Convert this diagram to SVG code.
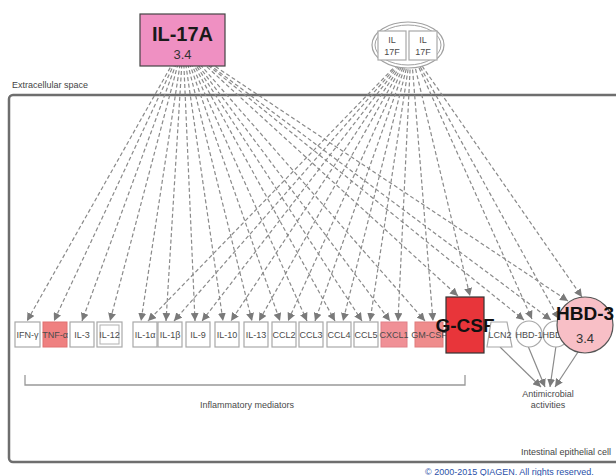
<svg xmlns="http://www.w3.org/2000/svg" width="616" height="476" viewBox="0 0 616 476">
<style>
text{font-family:"Liberation Sans",Arial,sans-serif;}
.e{stroke:#8a8a8a;stroke-width:1.2;stroke-dasharray:4,2.5;fill:none;marker-end:url(#ah);}
.s{stroke:#8a8a8a;stroke-width:1.2;fill:none;marker-end:url(#ah);}
.nb{fill:#fff;stroke:#a8a8a8;stroke-width:1.2;}
.nl{font-size:9px;fill:#4a4a4a;text-anchor:middle;}
.lbl{font-size:9px;fill:#444;}
</style>
<defs>
<marker id="ah" markerWidth="9" markerHeight="8" refX="8" refY="4" orient="auto" markerUnits="userSpaceOnUse">
<path d="M0,0 L8,4 L0,8 Z" fill="#7a7a7a"/>
</marker>
</defs>
<rect width="616" height="476" fill="#fff"/>
<g id="cell">
<rect x="9" y="95" width="640" height="367" rx="4" fill="none" stroke="#6e6e6e" stroke-width="2.5"/>
<text class="lbl" x="12" y="88">Extracellular space</text>
<text class="lbl" x="611" y="455" text-anchor="end">Intestinal epithelial cell</text>
</g>
<g id="connectors">
<line class="e" x1="183" y1="45" x2="27" y2="321"/>
<line class="e" x1="183" y1="45" x2="54" y2="321"/>
<line class="e" x1="183" y1="45" x2="82" y2="321"/>
<line class="e" x1="183" y1="45" x2="110" y2="321"/>
<line class="e" x1="183" y1="45" x2="141" y2="321"/>
<line class="e" x1="183" y1="45" x2="166" y2="321"/>
<line class="e" x1="183" y1="45" x2="195" y2="321"/>
<line class="e" x1="183" y1="45" x2="223" y2="321"/>
<line class="e" x1="183" y1="45" x2="252" y2="321"/>
<line class="e" x1="183" y1="45" x2="280" y2="321"/>
<line class="e" x1="183" y1="45" x2="307" y2="321"/>
<line class="e" x1="183" y1="45" x2="335" y2="321"/>
<line class="e" x1="183" y1="45" x2="362" y2="321"/>
<line class="e" x1="183" y1="45" x2="390" y2="321"/>
<line class="e" x1="183" y1="45" x2="425" y2="321"/>
<line class="e" x1="183" y1="45" x2="458" y2="296"/>
<line class="e" x1="183" y1="45" x2="524" y2="320"/>
<line class="e" x1="183" y1="45" x2="551" y2="320"/>
<line class="e" x1="183" y1="45" x2="568" y2="301"/>
<line class="e" x1="411" y1="50" x2="148" y2="321"/>
<line class="e" x1="411" y1="50" x2="174" y2="321"/>
<line class="e" x1="411" y1="50" x2="202" y2="321"/>
<line class="e" x1="411" y1="50" x2="231" y2="321"/>
<line class="e" x1="411" y1="50" x2="259" y2="321"/>
<line class="e" x1="411" y1="50" x2="288" y2="321"/>
<line class="e" x1="411" y1="50" x2="315" y2="321"/>
<line class="e" x1="411" y1="50" x2="343" y2="321"/>
<line class="e" x1="411" y1="50" x2="370" y2="321"/>
<line class="e" x1="411" y1="50" x2="398" y2="321"/>
<line class="e" x1="411" y1="50" x2="433" y2="321"/>
<line class="e" x1="411" y1="50" x2="470" y2="296"/>
<line class="e" x1="411" y1="50" x2="532" y2="319"/>
<line class="e" x1="411" y1="50" x2="559" y2="319"/>
<line class="e" x1="411" y1="50" x2="582" y2="297"/>
<line class="s" x1="500" y1="347" x2="541" y2="387"/>
<line class="s" x1="528" y1="346" x2="545" y2="387"/>
<line class="s" x1="556" y1="346" x2="550" y2="387"/>
<line class="s" x1="578" y1="352" x2="555" y2="387"/>
</g>
<g id="IL-17A">
<rect x="140" y="14" width="85" height="52" fill="#ef90c2" stroke="#444" stroke-width="1.2"/>
<text x="182.5" y="41" font-size="20" font-weight="bold" fill="#1a1a1a" text-anchor="middle">IL-17A</text>
<text x="182.5" y="59" font-size="13" fill="#333" text-anchor="middle">3.4</text>
</g>
<g id="IL-17F">
<ellipse cx="408" cy="45" rx="36" ry="23" fill="#fff" stroke="#a0a0a0" stroke-width="1.2"/>
<ellipse cx="408" cy="45" rx="33" ry="20" fill="none" stroke="#a0a0a0" stroke-width="1"/>
<rect x="378" y="31" width="28" height="29" class="nb"/>
<rect x="409" y="31" width="28" height="29" class="nb"/>
<text class="nl" x="392" y="43">IL</text>
<text class="nl" x="392" y="55">17F</text>
<text class="nl" x="423" y="43">IL</text>
<text class="nl" x="423" y="55">17F</text>
</g>
<g id="IFN-g"><rect x="15" y="322" width="25" height="25" class="nb"/><text class="nl" x="27.5" y="338">IFN-γ</text></g>
<g id="TNF-a"><rect x="43" y="322" width="24" height="25" fill="#ef8080" stroke="#e07070"/><text class="nl" x="55" y="338" fill="#5a2020">TNF-α</text></g>
<g id="IL-3"><rect x="70" y="322" width="24" height="25" class="nb"/><text class="nl" x="82" y="338">IL-3</text></g>
<g id="IL-12"><rect x="97" y="322" width="25" height="25" class="nb"/><rect x="100" y="325" width="19" height="19" fill="none" stroke="#b0b0b0"/><text class="nl" x="109.5" y="338">IL-12</text></g>
<g id="IL-1a"><rect x="133" y="322" width="24" height="25" class="nb"/><text class="nl" x="145" y="338">IL-1α</text></g>
<g id="IL-1b"><rect x="158" y="322" width="24" height="25" class="nb"/><text class="nl" x="170" y="338">IL-1β</text></g>
<g id="IL-9"><rect x="186" y="322" width="24" height="25" class="nb"/><text class="nl" x="198" y="338">IL-9</text></g>
<g id="IL-10"><rect x="215" y="322" width="24" height="25" class="nb"/><text class="nl" x="227" y="338">IL-10</text></g>
<g id="IL-13"><rect x="244" y="322" width="24" height="25" class="nb"/><text class="nl" x="256" y="338">IL-13</text></g>
<g id="CCL2"><rect x="272" y="322" width="24" height="25" class="nb"/><text class="nl" x="284" y="338">CCL2</text></g>
<g id="CCL3"><rect x="299" y="322" width="24" height="25" class="nb"/><text class="nl" x="311" y="338">CCL3</text></g>
<g id="CCL4"><rect x="327" y="322" width="24" height="25" class="nb"/><text class="nl" x="339" y="338">CCL4</text></g>
<g id="CCL5"><rect x="354" y="322" width="24" height="25" class="nb"/><text class="nl" x="366" y="338">CCL5</text></g>
<g id="CXCL1"><rect x="381" y="322" width="26" height="25" fill="#f09096" stroke="#e08088"/><text class="nl" x="394" y="338" fill="#5a2020">CXCL1</text></g>
<g id="GM-CSF"><rect x="415" y="322" width="28" height="25" fill="#ef8c8c" stroke="#e07c7c"/><text class="nl" x="429" y="338" fill="#6a3030">GM-CSF</text></g>
<g id="G-CSF">
<rect x="446" y="297" width="38" height="56" fill="#e8353a" stroke="#333" stroke-width="1.2"/>
<text x="465" y="332" font-size="19" font-weight="bold" fill="#111" text-anchor="middle">G-CSF</text>
</g>
<g id="LCN2"><polygon points="491,322 507,322 512,347 487,347" class="nb"/><text class="nl" x="500" y="338">LCN2</text></g>
<g id="HBD-1"><circle cx="529" cy="334" r="13" class="nb"/><text class="nl" x="529" y="338">HBD-1</text></g>
<g id="HBD-2"><circle cx="556" cy="334" r="13" class="nb"/><text class="nl" x="556" y="338">HBD-2</text></g>
<g id="HBD-3">
<circle cx="585" cy="325" r="28" fill="#f8bfc6" stroke="#555" stroke-width="1.2"/>
<text x="585" y="320" font-size="19" font-weight="bold" fill="#111" text-anchor="middle">HBD-3</text>
<text x="585" y="343" font-size="13" fill="#333" text-anchor="middle">3.4</text>
</g>
<g id="antimicrobial">
<text class="nl" x="548" y="397">Antimicrobial</text>
<text class="nl" x="548" y="408">activities</text>
</g>
<g id="bracket">
<polyline points="25,375 25,385 465,385 465,375" fill="none" stroke="#999" stroke-width="1.3"/>
<text class="nl" x="247" y="408">Inflammatory mediators</text>
</g>
<text x="425" y="475" font-size="9" fill="#2a4fa8">© 2000-2015 QIAGEN. All rights reserved.</text>
</svg>
